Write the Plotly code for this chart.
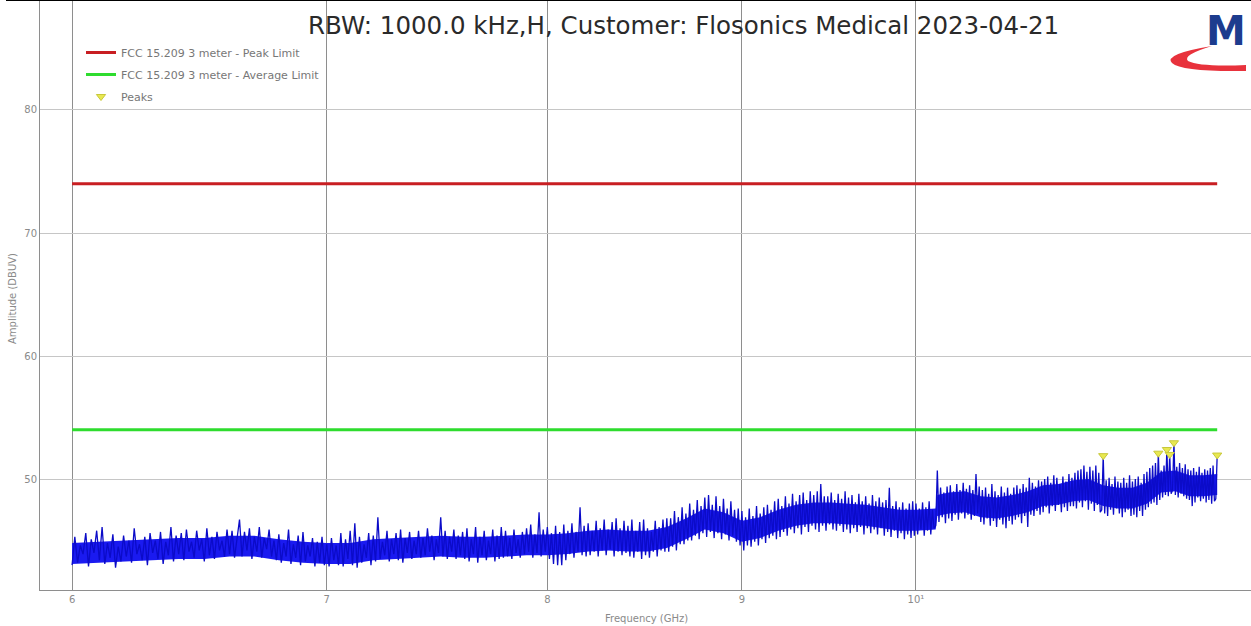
import numpy as np
import plotly.graph_objects as go

# ---------------- data ----------------
START_GHZ = 6.0
STOP_GHZ = 12.0

# Measured amplitude (dBuV), one value every 0.01 GHz from 6.00 to 12.00 GHz
amp_6_0 = [43.0, 45.3, 43.2, 44.6, 43.9, 45.6, 42.9, 45.1, 44.0, 45.8, 43.4, 46.1, 43.1, 44.8, 43.6, 45.5, 42.8, 44.5, 43.3, 45.4,
           43.7, 45.0, 43.2, 46.0, 43.9, 44.7, 43.4, 45.3, 43.0, 45.6, 44.0, 45.0, 43.5, 45.7, 43.1, 44.9, 43.8, 46.1, 43.3, 45.4,
           43.9, 45.6, 43.4, 45.9, 44.1, 44.9, 43.6, 45.8, 44.2, 45.1, 43.3, 46.0, 43.8, 45.3, 43.5, 45.7, 44.2, 45.0, 43.7, 45.9,
           43.9, 45.8, 43.6, 45.1, 46.7, 43.7, 45.7, 44.2, 46.0, 43.5, 45.3, 44.1, 46.1, 43.6, 45.2, 44.3, 45.9, 43.7, 45.0, 43.4,
           45.5, 43.2, 44.8, 43.7, 45.9, 43.1, 44.7, 43.6, 45.4, 43.0, 45.7, 43.3, 44.6, 43.7, 45.2, 42.9, 44.9, 43.2, 45.3, 43.0]
amp_7_0 = [44.7, 42.9, 45.2, 43.4, 44.6, 43.0, 45.6, 42.9, 45.1, 43.5, 45.8, 43.0, 46.4, 42.8, 45.3, 43.2, 44.7, 43.6, 45.6, 43.0,
           45.4, 43.3, 46.9, 43.5, 44.9, 43.8, 45.8, 43.3, 45.1, 43.9, 45.6, 43.4, 45.9, 43.2, 45.2, 44.0, 45.7, 43.5, 45.0, 43.9,
           45.8, 43.6, 45.2, 43.8, 46.0, 44.1, 45.4, 43.4, 45.1, 44.0, 46.9, 43.7, 45.8, 43.5, 45.3, 44.1, 45.9, 43.5, 45.4, 43.8,
           45.7, 43.5, 46.0, 43.3, 45.1, 43.9, 46.1, 43.2, 45.3, 43.8, 45.8, 43.4, 45.0, 43.9, 45.9, 43.3, 45.4, 43.5, 46.1, 43.6,
           45.8, 43.7, 45.2, 43.5, 45.9, 44.0, 45.1, 43.6, 45.7, 43.9, 46.0, 44.1, 46.3, 43.6, 45.5, 44.0, 47.3, 43.7, 45.9, 44.1]
amp_8_0 = [46.1, 43.5, 45.6, 43.1, 46.2, 43.0, 45.7, 43.0, 46.3, 43.4, 45.8, 43.9, 46.4, 43.6, 45.7, 44.1, 47.7, 43.8, 46.2, 43.7,
           46.4, 43.8, 45.8, 44.1, 46.6, 43.7, 46.0, 44.2, 46.7, 43.8, 45.9, 44.3, 46.5, 43.7, 46.8, 44.1, 46.0, 43.8, 46.6, 44.0,
           46.2, 43.7, 46.7, 43.6, 45.8, 44.1, 46.5, 43.5, 46.7, 43.8, 46.0, 43.6, 45.7, 44.1, 46.6, 43.7, 46.1, 44.2, 46.7, 44.1,
           46.8, 44.1, 46.8, 44.5, 47.4, 44.2, 46.9, 44.7, 47.7, 44.7, 47.2, 45.0, 48.0, 45.0, 47.5, 45.4, 48.3, 45.1, 47.8, 45.6,
           48.5, 45.3, 48.7, 45.7, 47.9, 45.2, 48.6, 45.6, 47.8, 45.1, 48.4, 45.5, 47.6, 45.0, 48.2, 45.4, 47.5, 44.9, 47.6, 44.6]
amp_9_0 = [47.4, 44.2, 46.9, 44.6, 47.6, 44.5, 47.0, 44.9, 47.8, 44.6, 47.2, 45.1, 47.7, 44.8, 47.9, 45.2, 47.5, 45.4, 48.2, 45.1,
           48.4, 45.3, 47.8, 45.7, 48.6, 45.4, 48.0, 45.9, 48.8, 45.6, 48.2, 46.0, 48.7, 45.5, 48.9, 46.1, 48.3, 45.7, 49.0, 46.2,
           48.7, 45.9, 49.0, 45.7, 49.6, 46.2, 48.6, 45.8, 48.6, 46.3, 48.9, 45.9, 48.3, 45.8, 48.8, 46.2, 48.4, 45.7, 49.0, 45.9,
           48.5, 45.6, 48.7, 46.0, 48.1, 45.7, 48.8, 46.1, 48.2, 45.5, 48.6, 46.0, 48.0, 45.6, 48.7, 45.9, 48.2, 45.5, 48.5, 46.0,
           48.1, 45.4, 48.3, 45.7, 49.3, 45.3, 47.8, 45.8, 48.2, 45.2, 47.7, 45.6, 48.1, 45.1, 47.6, 45.5, 48.0, 45.2, 48.2, 45.4]
amp_10_0 = [48.0, 45.5, 47.6, 45.9, 48.1, 45.4, 47.7, 45.8, 48.2, 45.5, 47.5, 46.0, 46.2, 50.7, 46.5, 49.3, 46.9, 48.9, 46.4, 49.4,
            46.8, 49.5, 46.6, 49.0, 47.1, 49.6, 46.7, 49.1, 47.2, 49.7, 46.8, 49.2, 47.1, 49.5, 46.7, 49.1, 47.0, 50.4, 47.2, 49.4,
            46.5, 49.1, 46.3, 49.3, 46.8, 48.8, 46.2, 49.6, 46.6, 49.0, 46.1, 48.7, 46.7, 49.4, 46.3, 48.9, 46.0, 49.3, 46.6, 48.8,
            46.3, 49.3, 46.7, 49.5, 46.9, 49.2, 46.4, 49.6, 47.0, 49.3, 46.1, 50.1, 47.1, 49.7, 47.0, 49.4, 47.4, 49.9, 47.1, 49.8,
            47.3, 50.0, 47.7, 50.2, 47.2, 49.7, 47.8, 50.3, 47.4, 50.1, 47.9, 49.6, 47.3, 50.2, 47.7, 49.8, 47.4, 50.4, 47.8, 50.1]
amp_11_0 = [47.8, 50.5, 47.6, 50.7, 48.1, 50.8, 47.7, 51.1, 48.2, 50.6, 47.5, 51.0, 48.0, 50.7, 47.4, 51.1, 47.9, 50.5, 47.3, 47.5,
            51.9, 47.2, 49.9, 47.0, 50.1, 47.5, 49.6, 47.1, 50.2, 47.6, 49.8, 47.2, 49.7, 46.9, 50.1, 47.3, 49.7, 47.5, 50.3, 47.0,
            49.8, 47.1, 50.0, 46.9, 50.2, 47.4, 49.7, 47.0, 50.4, 47.5, 50.6, 47.7, 50.9, 48.0, 51.1, 48.1, 51.3, 47.9, 52.1, 48.3,
            50.7, 48.5, 51.1, 48.7, 52.4, 48.6, 52.0, 48.8, 49.1, 52.95, 48.7, 51.0, 48.5, 51.3, 48.8, 50.9, 48.6, 51.2, 48.4, 50.8,
            48.3, 50.7, 47.8, 50.9, 48.1, 50.6, 48.5, 51.0, 48.2, 50.5, 48.4, 50.8, 48.1, 50.7, 48.3, 50.9, 48.0, 51.1, 48.2, 48.4,
            51.95]

amplitude = amp_6_0 + amp_7_0 + amp_8_0 + amp_9_0 + amp_10_0 + amp_11_0
frequency = np.linspace(START_GHZ, STOP_GHZ, len(amplitude))  # sweep points

# Dense core of the noise band (upper / lower edge of the solid part)
core_freq = [6.0, 6.1, 6.2, 6.3, 6.4, 6.5, 6.6, 6.7, 6.8, 6.9,
             7.0, 7.1, 7.2, 7.3, 7.4, 7.5, 7.6, 7.7, 7.8, 7.9,
             8.0, 8.1, 8.2, 8.3, 8.4, 8.5, 8.6, 8.7, 8.8, 8.9,
             9.0, 9.1, 9.2, 9.3, 9.4, 9.5, 9.6, 9.7, 9.8, 9.9,
             10.0, 10.1, 10.12, 10.13, 10.2, 10.3, 10.4, 10.5, 10.6, 10.7,
             10.8, 10.9, 11.0, 11.1, 11.2, 11.3, 11.4, 11.5, 11.6, 11.7,
             11.8, 11.9, 12.0]
core_hi = [44.8, 44.9, 45.0, 45.1, 45.2, 45.2, 45.4, 45.4, 45.1, 44.9,
           44.8, 44.8, 45.1, 45.2, 45.3, 45.4, 45.3, 45.3, 45.4, 45.5,
           45.5, 45.6, 45.8, 45.9, 45.8, 45.8, 46.1, 46.8, 47.6, 47.3,
           46.6, 46.9, 47.5, 47.9, 48.1, 48.1, 48.0, 47.9, 47.7, 47.5,
           47.5, 47.6, 47.6, 48.7, 48.9, 49.0, 48.6, 48.5, 48.7, 49.0,
           49.5, 49.6, 49.9, 50.0, 49.5, 49.3, 49.3, 49.7, 50.6, 50.7,
           50.3, 50.3, 50.4]
core_lo = [43.1, 43.2, 43.3, 43.4, 43.5, 43.5, 43.7, 43.7, 43.4, 43.2,
           43.1, 43.1, 43.4, 43.5, 43.6, 43.7, 43.6, 43.6, 43.7, 43.8,
           43.8, 43.9, 44.1, 44.2, 44.1, 44.1, 44.4, 45.1, 45.9, 45.6,
           44.9, 45.2, 45.8, 46.2, 46.4, 46.4, 46.3, 46.2, 46.0, 45.8,
           45.8, 45.9, 45.9, 47.0, 47.2, 47.3, 46.9, 46.8, 47.0, 47.3,
           47.8, 47.9, 48.2, 48.3, 47.8, 47.6, 47.6, 48.0, 48.9, 49.0,
           48.6, 48.6, 48.7]

limit_freq = [6.0, 12.0]
peak_limit = [74.0, 74.0]
avg_limit = [54.0, 54.0]

peak_freq = [11.20, 11.58, 11.64, 11.66, 11.69, 12.00]
peak_amp = [51.9, 52.1, 52.4, 52.0, 52.95, 51.95]

x_ticks = [6, 7, 8, 9, 10]
x_ticktext = ["6", "7", "8", "9", "10\u00b9"]
y_ticks = [50, 60, 70, 80]

title_text = "RBW: 1000.0 kHz,H, Customer: Flosonics Medical 2023-04-21"

# ---------------- figure ----------------
W, H = 1251, 626
ML, MR, MT, MB = 40, 0, 0, 36
PW, PH = W - ML - MR, H - MT - MB


def px(x):
    return (x - ML) / PW


def py(y):
    return 1 - (y - MT) / PH


FILL_BLUE = "#1a1af0"
LINE_BLUE = "#0b0bc8"

fig = go.Figure()

fig.add_trace(go.Scatter(
    x=core_freq, y=core_lo, mode="lines", line=dict(width=0, color=FILL_BLUE),
    showlegend=False, hoverinfo="skip"))
fig.add_trace(go.Scatter(
    x=core_freq, y=core_hi, mode="lines", line=dict(width=0, color=FILL_BLUE),
    fill="tonexty", fillcolor=FILL_BLUE, showlegend=False, hoverinfo="skip"))

fig.add_trace(go.Scatter(
    x=frequency, y=amplitude, mode="lines",
    line=dict(color=LINE_BLUE, width=1.3), showlegend=False, hoverinfo="skip"))

fig.add_trace(go.Scatter(
    x=limit_freq, y=peak_limit, mode="lines", name="FCC 15.209 3 meter - Peak Limit",
    line=dict(color="#c81e22", width=3), legendgroup="a"))
fig.add_trace(go.Scatter(
    x=limit_freq, y=avg_limit, mode="lines", name="FCC 15.209 3 meter - Average Limit",
    line=dict(color="#2edc2e", width=3), legendgroup="b"))
fig.add_trace(go.Scatter(
    x=peak_freq, y=peak_amp, mode="markers", name="Peaks",
    marker=dict(symbol="triangle-down", size=8, color="#e8e850",
                line=dict(color="#c8c83a", width=1)), legendgroup="c"))

axis_font = dict(family="DejaVu Sans", size=10, color="#8a8a8a")

fig.update_layout(
    width=W, height=H,
    margin=dict(l=ML, r=MR, t=MT, b=MB),
    plot_bgcolor="white", paper_bgcolor="white",
    legend=dict(x=px(81), y=py(38), xanchor="left", yanchor="top",
                font=dict(family="DejaVu Sans", size=11, color="#777777"),
                bgcolor="rgba(0,0,0,0)", tracegroupgap=3),
    xaxis=dict(type="log", range=[0.76972, 1.08807],
               tickvals=x_ticks, ticktext=x_ticktext, tickfont=axis_font,
               showgrid=True, gridcolor="#8e8e8e", gridwidth=1,
               showline=True, linecolor="#8e8e8e", linewidth=1,
               zeroline=False, ticks=""),
    yaxis=dict(range=[40.98, 88.94], tickvals=y_ticks, tickfont=axis_font,
               showgrid=True, gridcolor="#c6c6c6", gridwidth=1,
               showline=True, linecolor="#8e8e8e", linewidth=1,
               zeroline=False, ticks=""),
)

annotations = [
    dict(text=title_text, x=px(683), y=py(25), xref="paper", yref="paper",
         showarrow=False, xanchor="center", yanchor="middle",
         font=dict(family="DejaVu Sans", size=24.5, color="#2a2a2a")),
    dict(text="Amplitude (DBUV)", x=px(12), y=py(299), xref="paper", yref="paper",
         showarrow=False, textangle=-90, xanchor="center", yanchor="middle",
         font=axis_font),
    dict(text="Frequency (GHz)", x=px(646), y=py(618), xref="paper", yref="paper",
         showarrow=False, xanchor="center", yanchor="middle", font=axis_font),
    dict(text="<b>M</b>", x=px(1226), y=py(31), xref="paper", yref="paper",
         showarrow=False, xanchor="center", yanchor="middle",
         font=dict(family="DejaVu Sans", size=40, color="#1d3c8e")),
]
fig.update_layout(annotations=annotations)

# logo swoosh and top frame line
swoosh = (f"M {px(1212)},{py(46)} Q {px(1163)},{py(54)} {px(1172)},{py(63)} "
          f"Q {px(1182)},{py(72)} {px(1246)},{py(71)} L {px(1246)},{py(65)} "
          f"Q {px(1200)},{py(67)} {px(1188)},{py(61)} Q {px(1182)},{py(55)} {px(1212)},{py(46)} Z")
fig.add_shape(type="path", path=swoosh, xref="paper", yref="paper",
              fillcolor="#e8323c", line=dict(width=0))
fig.add_shape(type="line", xref="paper", yref="paper",
              x0=px(6), x1=1.0, y0=1.0, y1=1.0, line=dict(color="black", width=2))

fig.write_html("out.html")
